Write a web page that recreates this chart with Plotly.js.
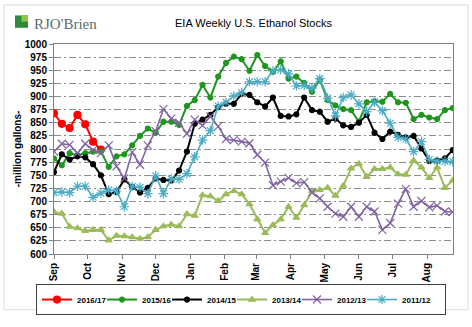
<!DOCTYPE html>
<html><head><meta charset="utf-8">
<script src="https://cdn.plot.ly/plotly-3.0.1.min.js"></script>
<style>html,body{margin:0;padding:0;background:#fff}#chart{width:472px;height:327px}</style>
</head><body><div id="chart"></div>
<script>
// Season labels (legend)
const seasons = ['2016/17','2015/16','2014/15','2013/14','2012/13','2011/12'];
// Weekly stocks, million gallons (week 0 = start of September)
const s2016_17 = [868,848,840,865,847,814,799];
const s2015_16 = [782,769,792,788,792,795,795,766,786,790,807,825,839,831,852,852,846,882,893,922,898,938,964,976,971,949,979,958,947,967,934,938,926,909,932,893,883,876,874,852,889,891,890,905,889,888,857,865,860,857,874,878];
const s2014_15 = [756,790,780,786,784,771,750,714,718,742,728,717,726,744,741,740,759,795,848,856,865,880,886,886,905,903,889,881,898,863,862,866,898,874,871,852,858,845,842,850,865,831,819,833,827,822,825,801,777,778,782,798];
const s2013_14 = [680,677,652,649,644,646,646,626,635,634,632,629,632,646,653,656,653,676,673,712,710,701,714,720,714,695,666,640,655,666,690,669,693,720,722,726,711,730,763,772,747,762,762,765,752,751,778,765,745,765,726,740];
const s2012_13 = [795,810,808,792,810,798,792,807,767,744,794,770,807,834,876,858,850,829,856,845,862,843,819,817,814,811,789,774,731,738,745,735,737,717,706,690,677,671,690,671,690,681,646,659,696,724,690,701,689,692,681,680];
const s2011_12 = [717,718,717,729,729,708,716,722,720,690,729,727,715,749,715,743,742,753,785,817,835,882,889,901,907,928,928,928,949,951,943,920,921,916,934,897,863,898,903,886,871,889,873,849,822,819,795,814,780,777,777,776];
// Week dates on a common marketing-year axis (Sep -> Aug)
const weekDates = [];
for (let i = 0; i < 52; i++) {
  weekDates.push(new Date(Date.UTC(2014, 8, 1) + i * 7 * 86400000).toISOString().slice(0, 10));
}

const FONT = 'Liberation Sans, Arial, sans-serif';
const series = [
  {y: s2016_17, color: '#ff0000', marker: {symbol: 'circle', size: 7}, w: 2},
  {y: s2015_16, color: '#1f961f', marker: {symbol: 'circle', size: 5}, w: 2},
  {y: s2014_15, color: '#000000', marker: {symbol: 'circle', size: 5}, w: 2},
  {y: s2013_14, color: '#9bbb59', marker: {symbol: 'triangle-up', size: 6}, w: 2},
  {y: s2012_13, color: '#8064a2', marker: {symbol: 'x-thin-open', size: 8}, w: 1.6},
  {y: s2011_12, color: '#4bacc6', marker: {symbol: 'asterisk-open', size: 8}, w: 1.6}
];
const traces = series.map((s, k) => ({
  type: 'scatter', mode: 'lines+markers', name: seasons[k],
  x: weekDates.slice(0, s.y.length), y: s.y,
  line: {color: s.color, width: s.w},
  marker: Object.assign({color: s.color, line: {color: s.color, width: 1.2}}, s.marker)
}));
traces[traces.length - 1].legendwidth = 38;

const layout = {
  width: 472, height: 327,
  margin: {l: 54, r: 19, t: 44, b: 62.5},
  paper_bgcolor: '#ffffff', plot_bgcolor: '#ffffff',
  font: {family: FONT, size: 10, color: '#000'},
  title: {text: 'EIA Weekly U.S. Ethanol Stocks', font: {family: FONT, size: 11, color: '#000'},
          x: 0.5, xref: 'paper', xanchor: 'center', y: 0.928, yref: 'container', yanchor: 'middle'},
  xaxis: {
    type: 'date', range: ['2014-09-01', '2015-08-24 06:00'],
    tick0: '2014-09-01', dtick: 'M1', tickformat: '%b', tickangle: -90,
    ticks: 'outside', ticklen: 4, tickcolor: '#808080',
    showline: true, linecolor: '#808080', mirror: true, showgrid: false, zeroline: false,
    tickfont: {family: FONT, size: 10, weight: 'bold', color: '#000'}
  },
  yaxis: {
    range: [600, 1000], dtick: 25, tick0: 600,
    ticks: 'outside', ticklen: 4, tickcolor: '#808080',
    showline: true, linecolor: '#808080', mirror: true, zeroline: false,
    showgrid: true, gridcolor: '#8c8c8c', gridwidth: 1, griddash: '7px,3px,2px,3px',
    tickfont: {family: FONT, size: 10, weight: 'bold', color: '#000'}
  },
  showlegend: true,
  legend: {
    orientation: 'h', x: -0.0451, xanchor: 'left', y: -0.143, yanchor: 'top',
    bordercolor: '#404040', borderwidth: 1, bgcolor: '#ffffff',
    font: {family: FONT, size: 8, weight: 'bold', color: '#000'},
    entrywidth: 20, itemwidth: 30
  },
  shapes: [
    {type: 'rect', xref: 'paper', yref: 'paper', x0: -0.1253, x1: 1.0376, y0: -0.2653, y1: 1.1859,
     line: {color: '#d9d9d9', width: 1}, layer: 'below'},
    {type: 'rect', xref: 'paper', yref: 'paper', x0: -0.0977, x1: -0.0652, y0: 1.0771, y1: 1.1361,
     fillcolor: '#2e8b3e', line: {width: 0}},
    {type: 'rect', xref: 'paper', yref: 'paper', x0: -0.0815, x1: -0.0652, y0: 1.1066, y1: 1.1361,
     fillcolor: '#8dc63f', line: {width: 0}}
  ],
  annotations: [
    {text: "RJO'Brien", xref: 'paper', yref: 'paper', x: -0.0551, y: 1.0952, xanchor: 'left', yanchor: 'middle',
     showarrow: false, font: {family: 'Liberation Serif, serif', size: 15, color: '#5a6e6a'}},
    {text: '-million gallons-', xref: 'paper', yref: 'paper', x: -0.092, y: 0.5, xanchor: 'center', yanchor: 'middle',
     textangle: -90, showarrow: false, font: {family: FONT, size: 10, weight: 'bold', color: '#000'}}
  ]
};

Plotly.newPlot('chart', traces, layout, {displayModeBar: false, staticPlot: true});
</script>
</body></html>
